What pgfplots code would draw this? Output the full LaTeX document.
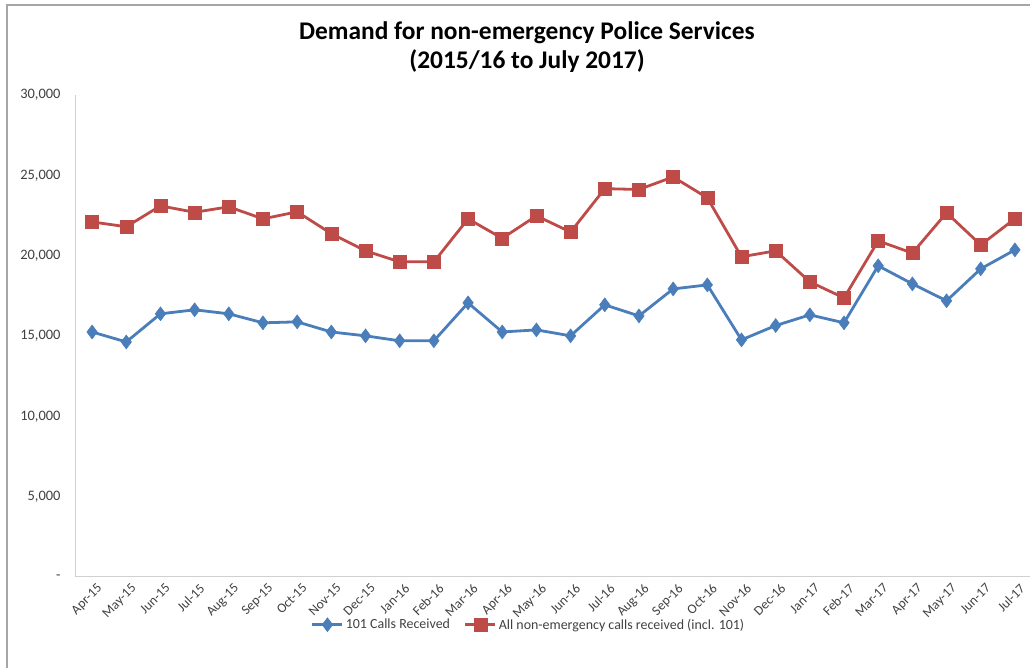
\documentclass[border=0pt]{standalone}
\usepackage{pgfplots}
\pgfplotsset{compat=1.18}
\usepackage{fontspec}
\setmainfont{Carlito}
\definecolor{sblue}{HTML}{4A7EBB}
\definecolor{sred}{HTML}{BE4B48}
\definecolor{axgray}{HTML}{D0D0D0}
\definecolor{txtgray}{HTML}{404040}
\begin{document}
\begin{tikzpicture}
\useasboundingbox (0bp,0bp) rectangle (1030bp,668bp);
\draw[color=gray!70, line width=1.2bp] (7bp,-5bp) -- (7bp,663bp) -- (1040bp,663bp);
\node[align=center, font=\fontsize{25.5}{29}\selectfont\bfseries] at (527bp,621bp) {Demand for non-emergency Police Services\\(2015/16 to July 2017)};
\begin{axis}[
  at={(75bp,91bp)}, anchor=south west,
  scale only axis, width=957bp, height=482bp,
  xmin=-0.5, xmax=27.5, ymin=0, ymax=30000,
  scaled y ticks=false,
  axis x line*=bottom, axis y line*=left,
  axis line style={color=axgray, line width=1bp, -},
  major tick length=0pt,
  xtick={0,...,27},
  xticklabels={Apr-15,May-15,Jun-15,Jul-15,Aug-15,Sep-15,Oct-15,Nov-15,Dec-15,Jan-16,Feb-16,Mar-16,Apr-16,May-16,Jun-16,Jul-16,Aug-16,Sep-16,Oct-16,Nov-16,Dec-16,Jan-17,Feb-17,Mar-17,Apr-17,May-17,Jun-17,Jul-17},
  xticklabel style={rotate=45, anchor=north east, font=\fontsize{13.5}{15}\selectfont, text=txtgray, xshift=0bp, yshift=-6bp, inner sep=1bp},
  ytick={0,5000,10000,15000,20000,25000,30000},
  yticklabels={-,{5,000},{10,000},{15,000},{20,000},{25,000},{30,000}},
  yticklabel style={font=\fontsize{14.5}{16}\selectfont, text=txtgray, xshift=-11bp},
  legend style={at={(0.474,-0.099)}, anchor=center, draw=none, fill=none, legend columns=2, font=\fontsize{14}{16}\selectfont, text=txtgray, /tikz/every even column/.append style={column sep=12bp}},
  legend image code/.code={\draw[#1, mark repeat=2, mark phase=2] plot coordinates {(0bp,0bp) (15bp,0bp) (30bp,0bp)};},
]
\addplot[color=sblue, line width=2.8bp, mark=diamond*, mark size=7bp, mark options={line width=0.5bp}] coordinates {
(0,15250) (1,14630) (2,16380) (3,16630) (4,16380) (5,15820) (6,15880) (7,15250) (8,15010) (9,14700) (10,14700) (11,17060) (12,15250) (13,15380) (14,15010) (15,16940) (16,16250) (17,17930) (18,18180) (19,14760) (20,15650) (21,16315) (22,15820) (23,19370) (24,18245) (25,17190) (26,19180) (27,20360)};
\addlegendentry{101 Calls Received}
\addplot[color=sred, line width=2.8bp, mark=square*, mark size=6.5bp, mark options={line width=0.5bp}] coordinates {
(0,22100) (1,21800) (2,23100) (3,22700) (4,23040) (5,22290) (6,22730) (7,21370) (8,20300) (9,19615) (10,19615) (11,22290) (12,21080) (13,22480) (14,21470) (15,24170) (16,24120) (17,24900) (18,23600) (19,19930) (20,20300) (21,18370) (22,17370) (23,20920) (24,20160) (25,22670) (26,20670) (27,22300)};
\addlegendentry{All non-emergency calls received (incl. 101)}
\end{axis}
\end{tikzpicture}
\end{document}
